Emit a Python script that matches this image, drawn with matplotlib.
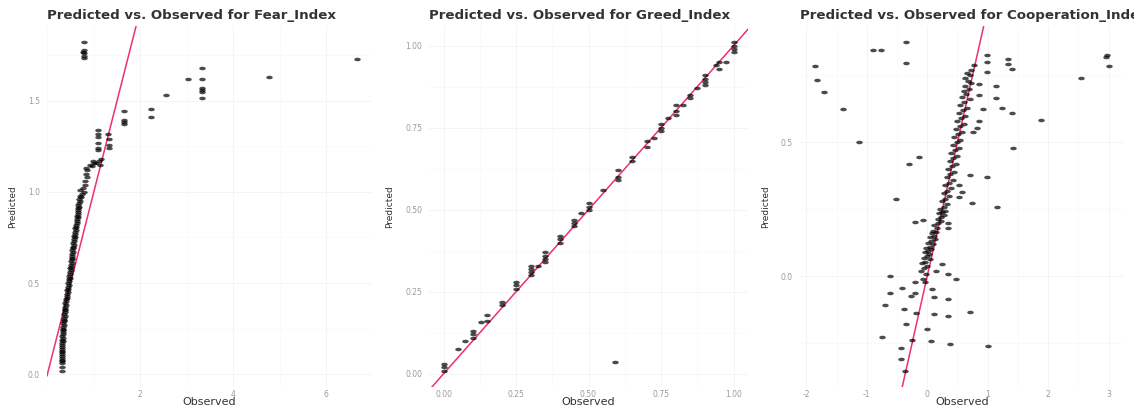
import numpy as np
import matplotlib
matplotlib.use("Agg")
import matplotlib.pyplot as plt
from matplotlib.path import Path
from matplotlib.ticker import FixedLocator, AutoMinorLocator

# ---------------- data ----------------
fear_obs = [0.31,0.32,0.31,0.32,0.31,0.32,0.31,0.32,0.31,0.32,0.31,0.32,0.31,0.32,0.33,0.32,0.33,0.32,0.33,0.34,0.33,0.34,0.33,0.35,0.34,0.35,0.35,
            0.36,0.37,0.36,0.38,0.37,0.39,0.38,0.40,0.39,0.41,0.40,0.42,0.43,0.42,0.44,0.43,0.45,0.44,0.46,0.45,0.47,0.46,0.48,0.47,0.49,0.48,0.50,0.49,0.51,0.50,0.52,0.51,0.53,0.52,0.54,0.53,0.55,0.54,0.56,0.55,0.57,0.56,0.58,0.57,0.59,0.58,0.60,0.59,0.61,0.60,0.62,0.61,0.63,0.64,0.63,0.65,0.64,0.66,0.65,0.67,0.66,0.68,0.67,0.69,0.70,0.68,0.72,0.70,0.74,0.78,0.71,0.76,
            0.80,0.82,0.86,0.83,0.85,0.84,0.92,0.96,1.00,0.98,1.05,1.14,1.12,1.16,1.09,1.10,1.09,1.10,1.09,1.08,1.32,1.32,1.32,1.31,
            0.78,0.78,0.77,0.78,0.78,0.78,1.66,1.66,1.66,1.66,2.22,2.22,2.56,3.03,3.33,3.33,3.33,3.33,3.33,3.33,4.78,6.67]
fear_pred = [0.02,0.04,0.06,0.07,0.08,0.09,0.10,0.11,0.12,0.13,0.14,0.15,0.16,0.17,0.18,0.19,0.20,0.21,0.22,0.23,0.24,0.25,0.26,0.27,0.28,0.29,0.30,
             0.31,0.32,0.33,0.34,0.35,0.36,0.37,0.38,0.39,0.40,0.41,0.42,0.43,0.44,0.45,0.46,0.47,0.48,0.49,0.50,0.51,0.52,0.53,0.54,0.55,0.56,0.57,0.58,0.59,0.60,0.61,0.62,0.63,0.64,0.65,0.66,0.67,0.68,0.69,0.70,0.71,0.72,0.73,0.74,0.75,0.76,0.77,0.78,0.79,0.80,0.81,0.82,0.83,0.84,0.85,0.86,0.87,0.88,0.89,0.90,0.91,0.92,0.93,0.94,0.95,0.96,0.97,0.98,0.99,1.00,1.01,1.02,
             1.04,1.06,1.08,1.10,1.12,1.13,1.15,1.14,1.16,1.17,1.16,1.15,1.17,1.18,1.23,1.24,1.27,1.30,1.32,1.34,1.24,1.26,1.29,1.32,
             1.82,1.78,1.77,1.76,1.745,1.735,1.443,1.395,1.384,1.372,1.456,1.41,1.534,1.619,1.682,1.619,1.57,1.558,1.547,1.516,1.63,1.727]

greed_obs = [0.0,0.0,0.0,0.05,0.075,0.10,0.10,0.10,0.13,0.15,0.15,0.20,0.20,0.25,0.25,0.25,0.30,0.30,0.30,0.30,0.325,0.35,0.35,0.35,0.35,
             0.40,0.40,0.40,0.45,0.45,0.45,0.475,0.50,0.50,0.50,0.55,0.60,0.60,0.60,0.65,0.65,0.70,0.70,0.725,0.75,0.75,0.75,0.775,
             0.80,0.80,0.80,0.825,0.85,0.85,0.875,0.90,0.90,0.90,0.90,0.95,0.94,0.95,0.975,1.0,1.0,1.0,1.0,0.59]
greed_pred = [0.01,0.02,0.03,0.075,0.10,0.11,0.12,0.13,0.157,0.16,0.18,0.21,0.22,0.26,0.27,0.28,0.30,0.31,0.32,0.33,0.33,0.34,0.35,0.36,0.37,
              0.40,0.41,0.42,0.45,0.46,0.47,0.49,0.50,0.51,0.52,0.56,0.59,0.60,0.62,0.65,0.66,0.69,0.71,0.72,0.74,0.75,0.76,0.78,
              0.79,0.80,0.82,0.82,0.84,0.85,0.87,0.88,0.89,0.90,0.91,0.93,0.94,0.95,0.95,0.98,0.99,1.00,1.01,0.035]

coop_obs = [-0.35,-0.90,-0.76,-1.86,-0.35,-1.83,-1.71,-1.40,-1.12,0.99,0.99,1.33,1.33,1.40,0.99,0.85,1.14,0.85,1.14,0.93,1.23,1.40,1.88,0.86,0.82,0.75,1.42,
            2.98,2.95,3.01,2.54,-0.14,-0.30,0.71,0.99,0.53,0.57,0.52,0.74,1.15,-0.52,-0.21,-0.07,0.35,0.35,0.25,0.15,0.35,0.47,-0.61,-0.41,-0.61,-0.21,-0.21,-0.26,
            0.08,0.11,0.35,-0.70,-0.39,-0.19,0.11,0.35,0.70,-0.35,0.0,-0.74,-0.25,0.06,0.38,1.0,-0.44,-0.44,-0.36,
            0.78,0.72,0.66,0.70,0.62,0.67,0.72,0.63,0.69,0.60,
            0.64,0.58,0.70,0.61,0.55,0.65,0.59,0.52,0.62,0.56,
            0.50,0.60,0.54,0.47,0.58,0.51,0.45,0.55,0.49,0.43,
            0.53,0.46,0.40,0.50,0.43,0.37,0.48,0.41,0.35,0.45,
            0.38,0.33,0.42,0.36,0.30,0.39,0.33,0.27,0.36,0.30,
            0.25,0.33,0.27,0.21,0.30,0.24,0.19,0.27,0.22,0.17,
            0.23,0.18,0.12,0.16,0.10,0.14,0.08,0.11,0.05,0.13,
            0.07,0.02,0.10,0.04,-0.02,0.06,0.01,-0.04,0.03,-0.01,
            -0.06,0.04,-0.03,-0.08,0.00,-0.05,-0.10,-0.02,-0.07,-0.03]
coop_pred = [0.873,0.846,0.846,0.784,0.795,0.732,0.689,0.626,0.50,0.825,0.80,0.812,0.793,0.774,0.762,0.719,0.71,0.677,0.667,0.623,0.630,0.611,0.583,0.580,0.552,0.537,0.478,
             0.825,0.817,0.784,0.741,0.447,0.42,0.377,0.37,0.342,0.315,0.296,0.275,0.257,0.288,0.204,0.21,0.20,0.179,0.046,0.021,0.009,-0.009,0.002,-0.043,-0.062,-0.022,-0.064,-0.074,
             -0.047,-0.078,-0.086,-0.107,-0.123,-0.136,-0.142,-0.148,-0.133,-0.179,-0.198,-0.226,-0.238,-0.243,-0.253,-0.262,-0.268,-0.309,-0.352,
             0.79,0.77,0.76,0.75,0.74,0.73,0.72,0.71,0.70,0.69,
             0.68,0.67,0.66,0.65,0.64,0.63,0.62,0.61,0.60,0.59,
             0.58,0.57,0.56,0.55,0.54,0.53,0.52,0.51,0.50,0.49,
             0.48,0.47,0.46,0.45,0.44,0.43,0.42,0.41,0.40,0.39,
             0.38,0.37,0.36,0.35,0.34,0.33,0.32,0.31,0.30,0.29,
             0.28,0.27,0.26,0.25,0.245,0.24,0.235,0.23,0.22,0.215,
             0.205,0.20,0.19,0.18,0.17,0.165,0.16,0.15,0.145,0.14,
             0.13,0.125,0.12,0.11,0.105,0.10,0.095,0.09,0.085,0.075,
             0.07,0.065,0.055,0.05,0.04,0.03,0.02,0.01,-0.01,-0.02]

panels = [
    dict(title="Predicted vs. Observed for Fear_Index", x=fear_obs, y=fear_pred,
         xticks=[2, 4, 6], xlabels=["2", "4", "6"],
         yticks=[0.0, 0.5, 1.0, 1.5], ylabels=["0.0", "0.5", "1.0", "1.5"]),
    dict(title="Predicted vs. Observed for Greed_Index", x=greed_obs, y=greed_pred,
         xticks=[0.0, 0.25, 0.5, 0.75, 1.0], xlabels=["0.00", "0.25", "0.50", "0.75", "1.00"],
         yticks=[0.0, 0.25, 0.5, 0.75, 1.0], ylabels=["0.00", "0.25", "0.50", "0.75", "1.00"]),
    dict(title="Predicted vs. Observed for Cooperation_Index", x=coop_obs, y=coop_pred,
         xticks=[-2, -1, 0, 1, 2, 3], xlabels=["-2", "-1", "0", "1", "2", "3"],
         yticks=[0.0, 0.5], ylabels=["0.0", "0.5"]),
]

# ---------------- figure ----------------
W, H = 1134, 409
fig = plt.figure(figsize=(W / 100, H / 100), dpi=100)
plt.rcParams['font.family'] = ['DejaVu Sans']

boxes = [(47, 372), (429, 748), (800, 1124)]
top_px, bot_px = 26, 387

t = np.linspace(0, 2 * np.pi, 24)
ell = Path(np.column_stack([np.cos(t), 0.55 * np.sin(t)]))

for p, (l, r) in zip(panels, boxes):
    ax = fig.add_axes([l / W, 1 - bot_px / H, (r - l) / W, (bot_px - top_px) / H])
    x = np.array(p["x"]); y = np.array(p["y"])
    xr = x.max() - x.min(); yr = y.max() - y.min()
    ax.set_xlim(x.min() - 0.05 * xr, x.max() + 0.05 * xr)
    ax.set_ylim(y.min() - 0.05 * yr, y.max() + 0.05 * yr)
    for s in ax.spines.values():
        s.set_visible(False)
    ax.xaxis.set_major_locator(FixedLocator(p["xticks"]))
    ax.yaxis.set_major_locator(FixedLocator(p["yticks"]))
    ax.set_xticklabels(p["xlabels"])
    ax.set_yticklabels(p["ylabels"])
    ax.xaxis.set_minor_locator(AutoMinorLocator(2))
    ax.yaxis.set_minor_locator(AutoMinorLocator(2))
    ax.tick_params(which="both", length=0, labelsize=5.5, labelcolor="#9a9a9a")
    ax.tick_params(axis="x", pad=2)
    ax.tick_params(axis="y", pad=5)
    ax.grid(True, which="major", color="#f3f3f3", lw=0.6)
    ax.grid(True, which="minor", color="#f7f7f7", lw=0.4)
    ax.set_axisbelow(True)
    ax.axline((0, 0), slope=1, color="#f0306a", lw=1.1, zorder=2)
    ax.scatter(x, y, marker=ell, s=22, color="black", alpha=0.7, lw=0, zorder=3)
    ax.set_xlabel("Observed", fontsize=8, color="#333333", labelpad=-1)
    ax.set_ylabel("Predicted", fontsize=6.5, color="#333333", labelpad=8)
    ax.set_title(p["title"], loc="left", fontsize=9.6, fontweight="bold", color="#333333", pad=5)

fig.savefig("out.png", dpi=100)
